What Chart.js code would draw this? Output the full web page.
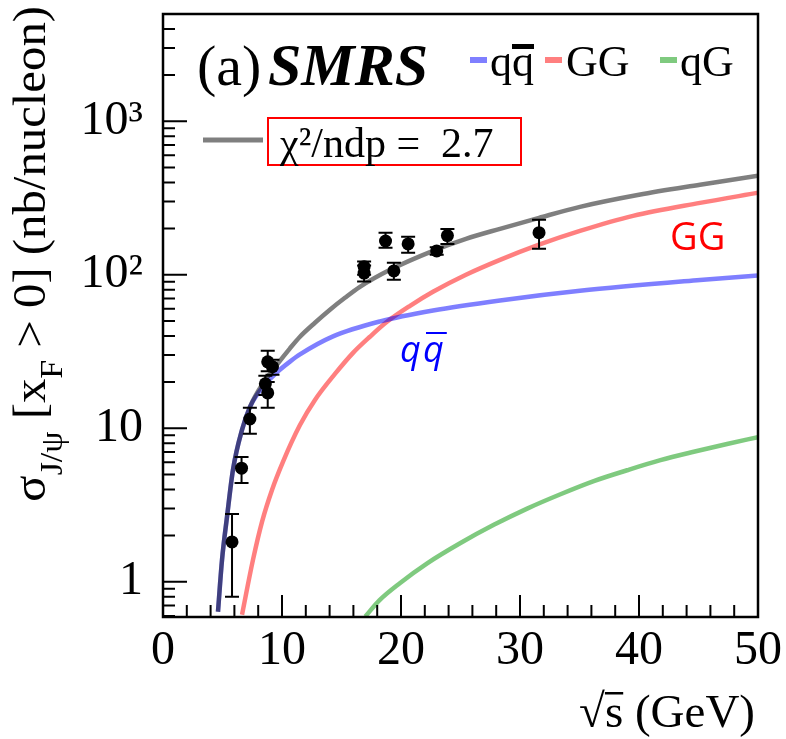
<!DOCTYPE html>
<html>
<head>
<meta charset="utf-8">
<script src="https://cdn.jsdelivr.net/npm/chart.js@4.4.1/dist/chart.umd.min.js"></script>
<style>
  html, body { margin: 0; padding: 0; background: #fff; }
  #wrap { width: 786px; height: 739px; }
</style>
</head>
<body>
<div id="wrap"><canvas id="chart" width="786" height="739"></canvas></div>
<script>
// axis ticks
const xTickValues = [0, 10, 20, 30, 40, 50];
const yTickValues = [1, 10, 100, 1000];
const yTickText = ['1', '10', '10²', '10³'];

// measured points (sqrt s in GeV, sigma in nb/nucleon)
const dataX = [5.8, 6.6, 7.3, 8.6, 8.8, 8.8, 9.2, 16.9, 16.9, 18.7, 19.4, 20.6, 23.0, 23.9, 31.6];
const dataY = [1.82, 5.5, 11.5, 19.5, 17.0, 27.1, 25.2, 113, 102.6, 166, 106, 159, 143, 180, 188];
const errLow = [0.80, 4.4, 9.2, 16.5, 13.6, 23.5, 22.3, 100, 90.4, 150, 93, 139, 135, 159, 148];
const errHigh = [2.77, 6.5, 13.6, 22, 20, 32, 28, 122, 115, 188, 120, 177, 151, 199, 228];

// fit curves
const totalX = [4.62, 4.96, 5.38, 5.88, 6.64, 7.31, 8.32, 9.58, 10.67, 11.51, 12.77, 14.03, 15.29, 16.55, 19.08, 22.69, 25.46, 28.32, 31.6, 35.04, 40, 45.13, 50];
const totalY = [0.638, 1.39, 2.65, 5.37, 9.78, 13.8, 19.2, 26.0, 33.2, 39.5, 48.7, 59.2, 70.8, 83.5, 107.8, 143.3, 171.6, 199.4, 235, 277, 332, 386, 442];
const qqX = [4.62, 4.96, 5.38, 5.88, 6.64, 7.31, 7.98, 8.66, 9.58, 10.67, 11.51, 14.29, 18.24, 22.69, 28.32, 35.04, 45.13, 50];
const qqY = [0.638, 1.39, 2.65, 5.37, 9.78, 13.8, 16.9, 19.7, 23.2, 27.2, 30.3, 39.7, 49.7, 58.6, 68.1, 78.7, 92.5, 99];
const ggX = [6.64, 7.56, 8.32, 9.16, 10.08, 11.51, 12.77, 14.45, 15.97, 17.39, 18.82, 20.76, 22.69, 25.46, 28.32, 31.6, 35.04, 39.5, 45.13, 50];
const ggY = [0.61, 1.39, 2.46, 3.97, 6.05, 10.5, 15.3, 22.6, 31.0, 39.5, 49.4, 62.8, 77.5, 100, 125, 157, 193, 242, 294, 342];
const qgX = [17.0, 18.2, 19.9, 22.2, 25.0, 27.8, 30.6, 33.4, 36.2, 39.0, 41.8, 44.6, 47.4, 50];
const qgY = [0.594, 0.76, 0.98, 1.32, 1.79, 2.35, 3.0, 3.72, 4.53, 5.33, 6.2, 7.03, 7.9, 8.76];

const serif = '"Liberation Serif", "DejaVu Serif", serif';
const sans = '"Open Sans", "Noto Sans", sans-serif';

function pairs(xs, ys) {
  return xs.map((x, i) => ({ x: x, y: ys[i] }));
}

function curve(label, xs, ys, color, order) {
  return {
    label: label,
    data: pairs(xs, ys),
    showLine: true,
    borderColor: color,
    borderWidth: 4.5,
    pointRadius: 0,
    cubicInterpolationMode: 'monotone',
    order: order
  };
}

// ticks inside the frame, frame, error bars and all the texts
const decorations = {
  id: 'decorations',
  afterDatasetsDraw(chart) {
    const ctx = chart.ctx;
    const xs = chart.scales.x;
    const ys = chart.scales.y;
    ctx.save();
    ctx.strokeStyle = '#000';
    ctx.lineWidth = 2;
    for (let i = 0; i < dataX.length; i++) {
      const px = xs.getPixelForValue(dataX[i]);
      const top = ys.getPixelForValue(errHigh[i]);
      const bot = ys.getPixelForValue(errLow[i]);
      ctx.beginPath();
      ctx.moveTo(px, top); ctx.lineTo(px, bot);
      ctx.moveTo(px - 7, top); ctx.lineTo(px + 7, top);
      ctx.moveTo(px - 7, bot); ctx.lineTo(px + 7, bot);
      ctx.stroke();
    }
    ctx.restore();
  },
  afterDraw(chart) {
    const ctx = chart.ctx;
    const a = chart.chartArea;
    const xs = chart.scales.x;
    const ys = chart.scales.y;
    ctx.save();

    // frame
    ctx.strokeStyle = '#000';
    ctx.lineWidth = 2.5;
    ctx.strokeRect(a.left, a.top, a.right - a.left, a.bottom - a.top);

    // x ticks (inward)
    ctx.lineWidth = 2;
    ctx.beginPath();
    for (let v = 0; v <= 50; v += 2) {
      const px = xs.getPixelForValue(v);
      const len = v % 10 === 0 ? 22 : 12;
      ctx.moveTo(px, a.bottom); ctx.lineTo(px, a.bottom - len);
    }
    // y ticks (inward)
    for (let d = 0.1; d <= 1000; d *= 10) {
      for (let m = 1; m <= 9; m++) {
        const v = d * m;
        if (v < ys.min - 1e-9 || v > ys.max) continue;
        const py = ys.getPixelForValue(v);
        const len = m === 1 ? 24 : 12;
        ctx.moveTo(a.left, py); ctx.lineTo(a.left + len, py);
      }
    }
    ctx.stroke();

    // "(a) SMRS"
    ctx.fillStyle = '#000';
    ctx.textBaseline = 'alphabetic';
    ctx.textAlign = 'left';
    ctx.font = '58px ' + serif;
    ctx.fillText('(a)', 197, 85);
    ctx.font = 'italic bold 60px ' + serif;
    ctx.fillText('SMRS', 268, 85);

    // legend
    ctx.font = '44px ' + serif;
    ctx.fillStyle = 'rgba(0,0,255,0.5)';
    ctx.fillRect(470, 57, 17, 6);
    ctx.fillStyle = '#000';
    ctx.fillText('q', 490, 76);
    const qw = ctx.measureText('q').width;
    ctx.fillText('q', 490 + qw, 76);
    ctx.fillRect(490 + qw, 44, qw, 5);
    ctx.fillStyle = 'rgba(255,0,0,0.5)';
    ctx.fillRect(545, 57, 17, 6);
    ctx.fillStyle = '#000';
    ctx.fillText('GG', 566, 76);
    ctx.fillStyle = 'rgba(0,150,0,0.5)';
    ctx.fillRect(660, 57, 17, 6);
    ctx.fillStyle = '#000';
    ctx.fillText('qG', 680, 76);

    // chi2 entry
    ctx.strokeStyle = 'rgba(0,0,0,0.5)';
    ctx.lineWidth = 5;
    ctx.beginPath();
    ctx.moveTo(203, 140); ctx.lineTo(263, 140);
    ctx.stroke();
    ctx.strokeStyle = '#ff0000';
    ctx.lineWidth = 2;
    ctx.strokeRect(268, 118, 253, 47);
    ctx.fillStyle = '#000';
    ctx.font = '42px ' + serif;
    ctx.fillText('χ²/ndp =  2.7', 280, 157);

    // curve labels
    ctx.fillStyle = '#ff0000';
    ctx.font = '38px ' + sans;
    ctx.fillText('GG', 670, 250);
    ctx.fillStyle = '#0000ff';
    ctx.font = 'italic 36px ' + sans;
    ctx.fillText('q', 400, 362);
    const bw = ctx.measureText('q').width;
    ctx.fillText('q', 423, 362);
    ctx.fillRect(426, 332, bw, 2);

    // x title
    ctx.fillStyle = '#000';
    ctx.font = '47px ' + serif;
    ctx.textAlign = 'right';
    const xt = 's (GeV)';
    ctx.fillText(xt, 755, 727);
    const xtw = ctx.measureText(xt).width;
    const sw = ctx.measureText('s').width;
    ctx.fillText('√', 755 - xtw, 727);
    ctx.fillRect(755 - xtw, 692, sw, 2.5);

    // y title, rotated
    ctx.textAlign = 'left';
    const parts = [
      ['σ', false], ['J/ψ', true], [' [x', false], ['F', true], [' > 0] (nb/nucleon)', false]
    ];
    const fs = 46;
    const stretch = 1.06;
    let total = 0;
    parts.forEach(p => {
      ctx.font = (p[1] ? Math.round(fs * 0.7) : fs) + 'px ' + serif;
      total += ctx.measureText(p[0]).width;
    });
    ctx.translate(45, 6);
    ctx.rotate(-Math.PI / 2);
    ctx.scale(stretch, 1);
    let pos = -total;
    parts.forEach(p => {
      ctx.font = (p[1] ? Math.round(fs * 0.7) : fs) + 'px ' + serif;
      ctx.fillText(p[0], pos, p[1] ? fs * 0.36 : 0);
      pos += ctx.measureText(p[0]).width;
    });
    ctx.restore();
  }
};

const ctx = document.getElementById('chart').getContext('2d');
new Chart(ctx, {
  type: 'scatter',
  data: {
    datasets: [
      {
        label: 'data',
        data: pairs(dataX, dataY),
        pointRadius: 6.5,
        pointHoverRadius: 6.5,
        backgroundColor: '#000',
        borderColor: '#000',
        borderWidth: 0,
        order: 0
      },
      curve('total', totalX, totalY, 'rgba(0,0,0,0.5)', 1),
      curve('qqbar', qqX, qqY, 'rgba(0,0,255,0.5)', 2),
      curve('GG', ggX, ggY, 'rgba(255,0,0,0.5)', 3),
      curve('qG', qgX, qgY, 'rgba(0,150,0,0.5)', 4)
    ]
  },
  options: {
    responsive: false,
    animation: false,
    devicePixelRatio: 1,
    layout: { padding: { top: 14, right: 28, left: 0, bottom: 0 } },
    plugins: { legend: { display: false }, tooltip: { enabled: false } },
    scales: {
      x: {
        type: 'linear',
        min: 0,
        max: 50,
        afterFit: function (scale) {
          scale.height = 122;
          scale.paddingLeft = 0;
          scale.paddingRight = 0;
        },
        afterBuildTicks: function (scale) { scale.ticks = xTickValues.map(v => ({ value: v })); },
        grid: { display: false, drawTicks: false },
        border: { display: false },
        ticks: {
          color: '#000',
          padding: 6,
          maxRotation: 0,
          autoSkip: false,
          font: { family: serif, size: 48 }
        }
      },
      y: {
        type: 'logarithmic',
        min: 0.59,
        max: 5000,
        afterFit: function (scale) {
          scale.width = 163;
          scale.paddingTop = 0;
          scale.paddingBottom = 0;
        },
        afterBuildTicks: function (scale) { scale.ticks = yTickValues.map(v => ({ value: v })); },
        grid: { display: false, drawTicks: false },
        border: { display: false },
        ticks: {
          color: '#000',
          padding: 20,
          autoSkip: false,
          font: { family: serif, size: 48 },
          callback: function (value) { return yTickText[yTickValues.indexOf(value)]; }
        }
      }
    }
  },
  plugins: [decorations]
});
</script>
</body>
</html>
